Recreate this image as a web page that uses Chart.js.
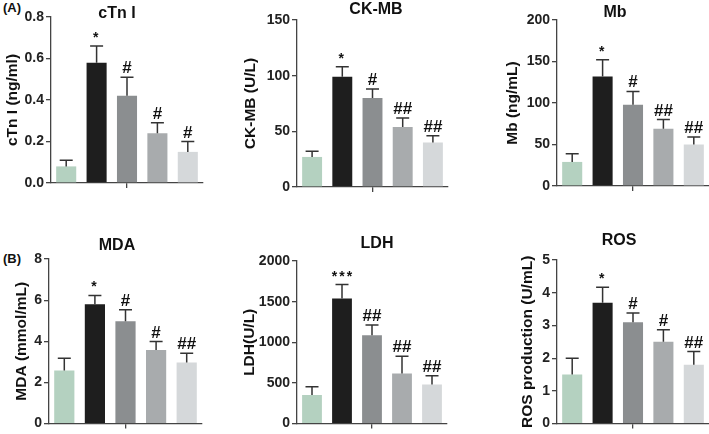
<!DOCTYPE html>
<html>
<head>
<meta charset="utf-8">
<script src="https://cdn.jsdelivr.net/npm/chart.js@4.4.0/dist/chart.umd.min.js"></script>
<style>
  body { margin: 0; background: #fff; }
  #wrap { position: relative; width: 709px; height: 434px; overflow: hidden; font-family: "Liberation Sans", Arial, sans-serif; }
  .panel { position: absolute; }
  .title { position: absolute; transform: translate(-50%, -50%); font-weight: bold; font-size: 16px; color: #111; white-space: nowrap; }
  .tag { position: absolute; font-weight: bold; font-size: 13px; color: #111; }
</style>
</head>
<body>
<div id="wrap">
  <div class="tag" style="left:3px;top:0px">(A)</div>
  <div class="tag" style="left:3px;top:251px">(B)</div>
</div>
<script>
// groups (no names printed on the figure)
const groups = ['Control', 'Model', 'Group 3', 'Group 4', 'Group 5'];

const cTnIMean = [0.08, 0.58, 0.42, 0.24, 0.15];
const cTnIErr = [0.03, 0.08, 0.09, 0.05, 0.05];
const cTnIMarks = ['', '*', '#', '#', '#'];
const cTnITicks = [0, 0.2, 0.4, 0.6, 0.8];
const cTnITickLabels = ['0.0', '0.2', '0.4', '0.6', '0.8'];

const ckmbMean = [27, 99, 80, 54, 40];
const ckmbErr = [5, 9, 8, 8, 6];
const ckmbMarks = ['', '*', '#', '##', '##'];
const ckmbTicks = [0, 50, 100, 150];
const ckmbTickLabels = ['0', '50', '100', '150'];

const mbMean = [29, 132, 98, 69, 50];
const mbErr = [10, 20, 16, 11, 9];
const mbMarks = ['', '*', '#', '##', '##'];
const mbTicks = [0, 50, 100, 150, 200];
const mbTickLabels = ['0', '50', '100', '150', '200'];

const mdaMean = [2.58, 5.8, 4.97, 3.58, 2.97];
const mdaErr = [0.6, 0.43, 0.56, 0.41, 0.45];
const mdaMarks = ['', '*', '#', '#', '##'];
const mdaTicks = [0, 2, 4, 6, 8];
const mdaTickLabels = ['0', '2', '4', '6', '8'];

const ldhMean = [352, 1540, 1088, 615, 482];
const ldhErr = [100, 170, 125, 214, 108];
const ldhMarks = ['', '***', '##', '##', '##'];
const ldhTicks = [0, 500, 1000, 1500, 2000];
const ldhTickLabels = ['0', '500', '1000', '1500', '2000'];

const rosMean = [1.5, 3.69, 3.1, 2.5, 1.8];
const rosErr = [0.5, 0.48, 0.28, 0.37, 0.4];
const rosMarks = ['', '*', '#', '#', '##'];
const rosTicks = [0, 1, 2, 3, 4, 5];
const rosTickLabels = ['0', '1', '2', '3', '4', '5'];

const barColors = ['#b4d1c0', '#1e1e1e', '#8b8e90', '#a8abad', '#d5d8da'];
const axisColor = '#444';
const fontFamily = '"Liberation Sans", Arial, sans-serif';

// box = canvas [left, top, width, height]; area = plot [left, right, top, bottom]
const panels = [
  { title: 'cTn I', yTitle: 'cTn I (ng/ml)', mean: cTnIMean, err: cTnIErr, marks: cTnIMarks, ticks: cTnITicks, labels: cTnITickLabels,
    box: [0, 0, 236, 200], area: [51, 203, 17, 183], yPad: 3, titleAt: [117, 13] },
  { title: 'CK-MB', yTitle: 'CK-MB (U/L)', mean: ckmbMean, err: ckmbErr, marks: ckmbMarks, ticks: ckmbTicks, labels: ckmbTickLabels,
    box: [236, 0, 234, 200], area: [297, 448, 20, 187], yPad: 5, titleAt: [376, 9] },
  { title: 'Mb', yTitle: 'Mb (ng/mL)', mean: mbMean, err: mbErr, marks: mbMarks, ticks: mbTicks, labels: mbTickLabels,
    box: [470, 0, 239, 200], area: [557, 709, 20, 186], yPad: 33, titleAt: [615, 12] },
  { title: 'MDA', yTitle: 'MDA (mmol/mL)', mean: mdaMean, err: mdaErr, marks: mdaMarks, ticks: mdaTicks, labels: mdaTickLabels,
    box: [0, 200, 236, 234], area: [49, 202, 259, 426], yPad: 12, titleAt: [117, 245] },
  { title: 'LDH', yTitle: 'LDH(U/L)', mean: ldhMean, err: ldhErr, marks: ldhMarks, ticks: ldhTicks, labels: ldhTickLabels,
    box: [236, 200, 234, 234], area: [297, 447, 261, 427], yPad: 4, titleAt: [377, 243] },
  { title: 'ROS', yTitle: 'ROS production (U/mL)', mean: rosMean, err: rosErr, marks: rosMarks, ticks: rosTicks, labels: rosTickLabels,
    box: [470, 200, 239, 234], area: [557, 709, 260, 427], yPad: 48, titleAt: [619, 240] }
];

// upward error bars + significance marks
function errorBars(err, marks) {
  return {
    id: 'errorBars',
    afterDatasetsDraw(chart) {
      const ctx = chart.ctx;
      const y = chart.scales.y;
      const mean = chart.data.datasets[0].data;
      ctx.save();
      chart.getDatasetMeta(0).data.forEach((bar, i) => {
        const top = y.getPixelForValue(mean[i] + err[i]);
        ctx.strokeStyle = '#333';
        ctx.lineWidth = 1.5;
        ctx.beginPath();
        ctx.moveTo(bar.x, bar.y);
        ctx.lineTo(bar.x, top);
        ctx.moveTo(bar.x - 6.5, top);
        ctx.lineTo(bar.x + 6.5, top);
        ctx.stroke();
        if (marks[i]) {
          const star = marks[i].includes('*');
          ctx.fillStyle = '#111';
          ctx.textAlign = 'center';
          ctx.textBaseline = 'alphabetic';
          ctx.font = (star ? 'bold 14px ' : 'bold 17px ') + fontFamily;
          ctx.letterSpacing = star ? '2px' : '0px';
          ctx.fillText(marks[i], bar.x + (star && marks[i].length > 1 ? 1 : 0), top - 4);
        }
      });
      ctx.restore();
    }
  };
}

const wrap = document.getElementById('wrap');

panels.forEach(p => {
  const [L, T, W, H] = p.box;
  const [cl, cr, ct, cb] = p.area;

  const holder = document.createElement('div');
  holder.className = 'panel';
  holder.style.left = L + 'px';
  holder.style.top = T + 'px';
  holder.style.width = W + 'px';
  holder.style.height = H + 'px';
  const canvas = document.createElement('canvas');
  canvas.width = W;
  canvas.height = H;
  holder.appendChild(canvas);
  wrap.appendChild(holder);

  const title = document.createElement('div');
  title.className = 'title';
  title.style.left = p.titleAt[0] + 'px';
  title.style.top = p.titleAt[1] + 'px';
  title.textContent = p.title;
  wrap.appendChild(title);

  new Chart(canvas, {
    type: 'bar',
    data: {
      labels: groups,
      datasets: [{
        data: p.mean,
        backgroundColor: barColors,
        borderWidth: 0,
        barPercentage: 0.66,
        categoryPercentage: 1
      }]
    },
    options: {
      responsive: false,
      animation: false,
      devicePixelRatio: 1,
      layout: { padding: { left: 0, top: ct - T, right: L + W - cr, bottom: 0 } },
      plugins: { legend: { display: false }, tooltip: { enabled: false }, title: { display: false } },
      scales: {
        x: {
          ticks: { display: false },
          grid: {
            offset: false,
            drawOnChartArea: false,
            drawTicks: true,
            tickLength: 5,
            lineWidth: 1.3,
            color: c => (c.index === 2 ? axisColor : 'rgba(0,0,0,0)')
          },
          border: { color: axisColor, width: 1.3 },
          afterFit: s => { s.height = T + H - cb; }
        },
        y: {
          min: p.ticks[0],
          max: p.ticks[p.ticks.length - 1],
          afterBuildTicks: s => { s.ticks = p.ticks.map(v => ({ value: v })); },
          ticks: {
            callback: (v, i) => p.labels[i],
            font: { family: fontFamily, size: 14, weight: 'bold' },
            color: '#222',
            padding: 2
          },
          grid: { drawOnChartArea: false, tickLength: 5, lineWidth: 1.3, color: axisColor },
          border: { color: axisColor, width: 1.3 },
          title: {
            display: true,
            text: p.yTitle,
            font: { family: fontFamily, size: 15.5, weight: 'bold' },
            color: '#111',
            padding: { top: p.yPad, bottom: 0 }
          },
          afterFit: s => { s.width = cl - L; }
        }
      }
    },
    plugins: [errorBars(p.err, p.marks)]
  });
});
</script>
</body>
</html>
